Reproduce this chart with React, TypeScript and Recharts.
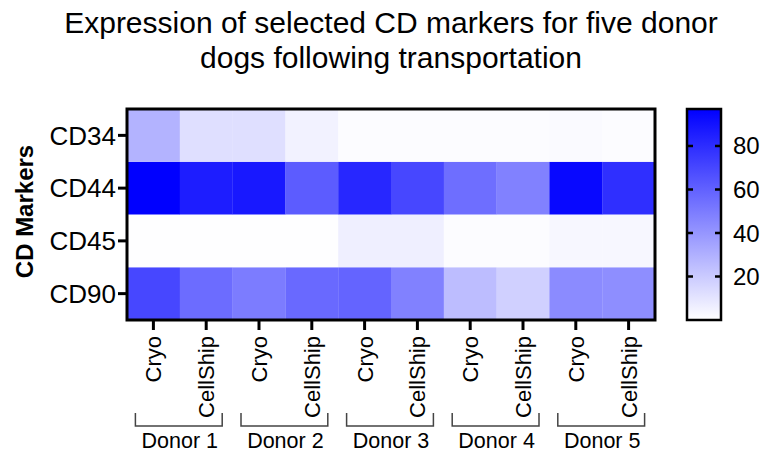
import React from 'react';
import { Bar, BarChart, Cell, ReferenceArea, XAxis, YAxis } from 'recharts';

const FONT = '"Liberation Sans", Arial, sans-serif';

const donors = ['Donor 1', 'Donor 2', 'Donor 3', 'Donor 4', 'Donor 5'];
const conditions = ['Cryo', 'CellShip'];
// top to bottom, as shown on the y axis
const markers = ['CD34', 'CD44', 'CD45', 'CD90'];

// one value per column: D1 Cryo, D1 CellShip, D2 Cryo, ... D5 CellShip
const cd34 = [29, 12, 12, 5, 1, 1, 1, 1, 2, 1];
const cd44 = [97, 86, 88, 62, 82, 70, 55, 48, 94, 79];
const cd45 = [0.5, 0.5, 0.5, 0.5, 6, 6, 1, 1, 3, 3];
const cd90 = [70, 56, 50, 57, 59, 48, 25, 18, 44, 43];

const scaleTicks = [20, 40, 60, 80];
const scaleMin = 0;
const scaleMax = 97;

const valuesByMarker: Record<string, number[]> = { CD34: cd34, CD44: cd44, CD45: cd45, CD90: cd90 };
const stackOrder = [...markers].reverse();

const rows = donors.flatMap((donor, d) =>
  conditions.map((cond, c) => {
    const i = d * conditions.length + c;
    const row: Record<string, number | string> = { key: `${donor}|${cond}`, donor, cond };
    markers.forEach((m) => {
      row[m] = 1;
      row[`v_${m}`] = valuesByMarker[m][i];
    });
    return row;
  })
);

const scaleData = [{ name: 'scale', value: scaleMax }];

const PLOT_LEFT = 127;
const PLOT_RIGHT = 655;
const COL_W = (PLOT_RIGHT - PLOT_LEFT) / rows.length;
const SCALE_W = 34;
const heatMargin = { top: 109, right: 765 - PLOT_RIGHT, bottom: 0, left: 0 };

const heat = (v: number) => {
  const t = Math.max(0, Math.min(1, (v - scaleMin) / (scaleMax - scaleMin)));
  const c = Math.round(255 * (1 - t));
  return `rgb(${c},${c},255)`;
};

const XTick = (props: any) => {
  const { x, y, payload, index } = props;
  const [donor, cond] = String(payload.value).split('|');
  const closesGroup = index % conditions.length === conditions.length - 1;
  const left = x - COL_W - 18;
  const right = x + 16;
  return (
    <g>
      <text
        transform={`translate(${x + 8},${y + 2}) rotate(-90)`}
        textAnchor="end"
        fontSize={22}
        fill="#000"
        fontFamily={FONT}
      >
        {cond}
      </text>
      {closesGroup && (
        <g>
          <path
            d={`M${left},${y + 79} V${y + 92} H${right} V${y + 79}`}
            fill="none"
            stroke="#444"
            strokeWidth={1.5}
          />
          <text x={x - COL_W / 2} y={y + 114} textAnchor="middle" fontSize={21.5} fill="#000" fontFamily={FONT}>
            {donor}
          </text>
        </g>
      )}
    </g>
  );
};

const AxisTitle = (props: any) => {
  const { viewBox } = props;
  const cy = viewBox.y + viewBox.height / 2 - 3;
  return (
    <text
      transform={`translate(33,${cy}) rotate(-90)`}
      textAnchor="middle"
      fontSize={24}
      fontWeight="bold"
      fill="#000"
      fontFamily={FONT}
    >
      CD Markers
    </text>
  );
};

const ScaleTick = (props: any) => {
  const { x, y, payload } = props;
  const rightEdge = x - 12;
  const leftEdge = rightEdge - SCALE_W;
  return (
    <g>
      <line x1={leftEdge} x2={leftEdge + 6} y1={y} y2={y} stroke="#000" strokeWidth={2.5} />
      <line x1={rightEdge - 6} x2={rightEdge} y1={y} y2={y} stroke="#000" strokeWidth={2.5} />
      <text x={x} y={y} dy="0.355em" textAnchor="start" fontSize={24} fill="#000" fontFamily={FONT}>
        {payload.value}
      </text>
    </g>
  );
};

export default function App() {
  return (
    <div style={{ position: 'absolute', left: 0, top: 0, width: 765, height: 452, background: '#fff', fontFamily: FONT }}>
      <div
        style={{
          position: 'absolute',
          left: 17,
          top: 5,
          width: 748,
          textAlign: 'center',
          fontSize: 30,
          lineHeight: '35px',
          color: '#000',
        }}
      >
        Expression of selected CD markers for five donor
        <br />
        dogs following transportation
      </div>

      <div style={{ position: 'absolute', left: 0, top: 0 }}>
        <BarChart width={765} height={452} data={rows} margin={heatMargin} barCategoryGap={0} barGap={0}>
          {stackOrder.map((m) => (
            <Bar key={m} dataKey={m} stackId="heat" isAnimationActive={false}>
              {rows.map((r, i) => (
                <Cell key={i} fill={heat(Number(r[`v_${m}`]))} />
              ))}
            </Bar>
          ))}
          <XAxis
            dataKey="key"
            interval={0}
            height={132}
            axisLine={false}
            tickSize={10}
            tickMargin={4}
            tickLine={{ stroke: '#000', strokeWidth: 3 }}
            tick={<XTick />}
          />
          <YAxis
            type="number"
            domain={[0, markers.length]}
            ticks={markers.map((_, i) => markers.length - i - 0.5)}
            tickFormatter={(v: number) => markers[markers.length - 0.5 - v]}
            width={PLOT_LEFT}
            axisLine={false}
            tickSize={9}
            tickMargin={2}
            tickLine={{ stroke: '#000', strokeWidth: 3 }}
            tick={{ fill: '#000', fontSize: 26, fontFamily: FONT }}
            label={<AxisTitle />}
          />
        </BarChart>
      </div>

      {/* frame drawn in a separate layer on top so the cells do not cover it */}
      <div style={{ position: 'absolute', left: 0, top: 0, pointerEvents: 'none' }}>
        <BarChart
          width={765}
          height={452}
          data={rows}
          margin={{ ...heatMargin, left: PLOT_LEFT, bottom: 132 }}
          barCategoryGap={0}
        >
          <XAxis dataKey="key" hide />
          <YAxis type="number" domain={[0, markers.length]} hide />
          <Bar dataKey={markers[0]} fill="none" fillOpacity={0} isAnimationActive={false} />
          <ReferenceArea
            y1={0}
            y2={markers.length}
            fill="none"
            fillOpacity={0}
            stroke="#000"
            strokeWidth={3}
            ifOverflow="visible"
          />
        </BarChart>
      </div>

      <div style={{ position: 'absolute', left: 0, top: 0 }}>
        <BarChart
          width={765}
          height={452}
          data={scaleData}
          margin={{ top: 109, right: 0, bottom: 132, left: 687 }}
          barCategoryGap={0}
        >
          <defs>
            <linearGradient id="heatScale" x1="0" y1="0" x2="0" y2="1">
              <stop offset="0%" stopColor="#0000ff" />
              <stop offset="100%" stopColor="#ffffff" />
            </linearGradient>
          </defs>
          <XAxis dataKey="name" hide />
          <YAxis
            orientation="right"
            type="number"
            domain={[scaleMin, scaleMax]}
            ticks={scaleTicks}
            width={44}
            axisLine={false}
            tickLine={false}
            tickSize={0}
            tickMargin={12}
            tick={<ScaleTick />}
          />
          <Bar dataKey="value" fill="url(#heatScale)" stroke="#000" strokeWidth={2.5} isAnimationActive={false} />
        </BarChart>
      </div>
    </div>
  );
}
